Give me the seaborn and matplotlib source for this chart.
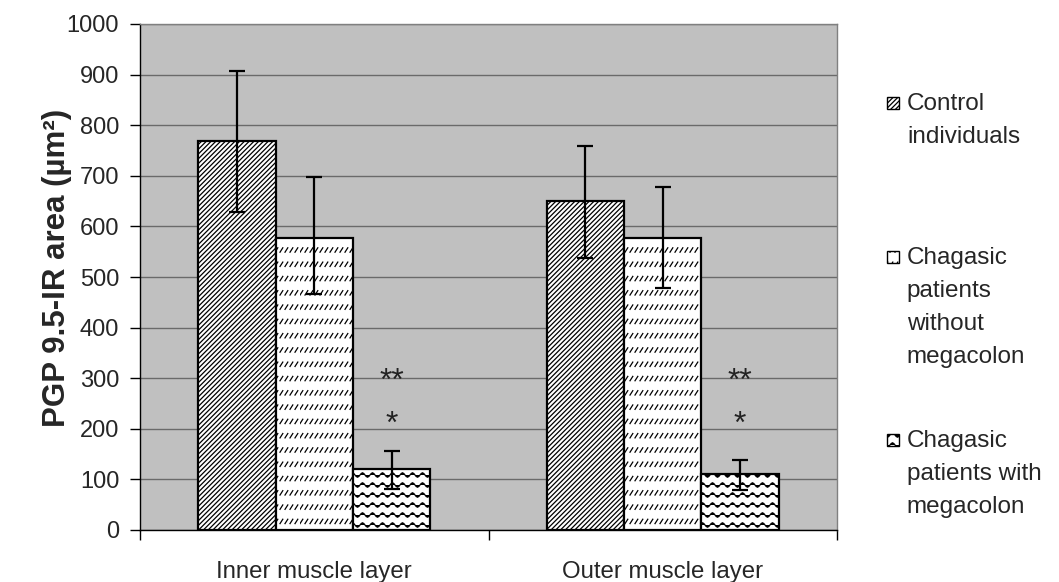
import warnings
warnings.filterwarnings("ignore")
import numpy as np
import pandas as pd
import matplotlib
matplotlib.use("Agg")
import matplotlib.pyplot as plt
import matplotlib.hatch as mhatch
import matplotlib.patches as mpatches
from matplotlib.legend_handler import HandlerPatch
from matplotlib.path import Path
import seaborn as sns

# ---------------- data ----------------
layers = ["Inner muscle layer", "Outer muscle layer"]
groups = ["Control\nindividuals",
          "Chagasic\npatients\nwithout\nmegacolon",
          "Chagasic\npatients with\nmegacolon"]
control_mean = [769, 651]
control_hi = [908, 759]
control_lo = [628, 538]
without_mean = [578, 578]
without_hi = [697, 678]
without_lo = [467, 479]
with_mean = [121, 110]
with_hi = [157, 139]
with_lo = [81, 80]
star_labels = ["**", "*"]
star_values = [292, 208]

# ---------------- custom hatches ----------------
class DiagHatch(mhatch.HatchPatternBase):
    N = 21
    def __init__(self, hatch, density):
        self.on = ";" in hatch
        self.num_vertices = (2 * self.N + 1) * 2 if self.on else 0
    def set_vertices_and_codes(self, vertices, codes):
        a = np.arange(-self.N, self.N + 1) / self.N
        vertices[0::2, 0] = a
        vertices[0::2, 1] = 0.0
        vertices[1::2, 0] = a + 1.0
        vertices[1::2, 1] = 1.0
        codes[0::2] = Path.MOVETO
        codes[1::2] = Path.LINETO

class WaveHatch(mhatch.HatchPatternBase):
    R, P, K, A = 10, 10, 8, 0.022
    def __init__(self, hatch, density):
        self.on = "~" in hatch
        self.npts = self.P * self.K + 1
        self.num_vertices = self.R * self.npts if self.on else 0
    def set_vertices_and_codes(self, vertices, codes):
        xs = np.linspace(0, 1, self.npts)
        for r in range(self.R):
            y0 = (r + 0.5) / self.R
            sl = slice(r * self.npts, (r + 1) * self.npts)
            vertices[sl, 0] = xs
            vertices[sl, 1] = y0 + self.A * np.sin(2 * np.pi * self.P * xs)
            codes[sl] = Path.LINETO
            codes[r * self.npts] = Path.MOVETO

class DashHatch(mhatch.HatchPatternBase):
    R, D = 7, 20
    def __init__(self, hatch, density):
        self.on = "," in hatch
        self.num_vertices = self.R * self.D * 2 if self.on else 0
    def set_vertices_and_codes(self, vertices, codes):
        i = 0
        for r in range(self.R):
            y0 = (r + 0.5) / self.R
            for d in range(self.D):
                x0 = d / self.D
                vertices[i] = (x0, y0 - 0.022)
                vertices[i + 1] = (x0 + 0.028, y0 + 0.022)
                codes[i] = Path.MOVETO
                codes[i + 1] = Path.LINETO
                i += 2

mhatch._hatch_types.extend([DiagHatch, WaveHatch, DashHatch])
hatches = [";", ",", "~"]

# ---------------- style ----------------
sns.set_style("white")
plt.rcParams["font.family"] = ["Liberation Sans", "DejaVu Sans"]
plt.rcParams["hatch.linewidth"] = 0.9

df = pd.DataFrame({
    "layer": layers * 3,
    "group": np.repeat(groups, len(layers)),
    "value": control_mean + without_mean + with_mean,
})
lows = [control_lo, without_lo, with_lo]
highs = [control_hi, without_hi, with_hi]

fig = plt.figure(figsize=(10.59, 5.82), dpi=100)
ax = fig.add_axes([140 / 1059, 1 - 530 / 582, 697 / 1059, 506 / 582])
ax.set_facecolor("#c0c0c0")

sns.barplot(data=df, x="layer", y="value", hue="group", hue_order=groups,
            palette=["white"] * 3, edgecolor="black", linewidth=1.6,
            width=2 / 3, gap=0, errorbar=None, saturation=1,
            legend=False, ax=ax, zorder=3)

for cont, h, lo, hi in zip(ax.containers, hatches, lows, highs):
    xs, ys = [], []
    for bar in cont:
        bar.set_hatch(h)
        xs.append(bar.get_x() + bar.get_width() / 2)
        ys.append(bar.get_height())
    ys = np.array(ys)
    ax.errorbar(xs, ys, yerr=[ys - np.array(lo), np.array(hi) - ys], fmt="none",
                ecolor="black", elinewidth=1.6, capsize=5.8, capthick=1.6, zorder=4)

# significance stars over the megacolon bars
for bar in ax.containers[2]:
    cx = bar.get_x() + bar.get_width() / 2
    for lab, v in zip(star_labels, star_values):
        ax.text(cx, v, lab, ha="center", va="center", fontsize=23, color="#222222", zorder=5)

ax.set_ylim(0, 1000)
ax.set_xlim(-0.5, 1.5)
ax.set_yticks(np.arange(0, 1001, 100))
ax.yaxis.grid(True, color="#6a6a6a", linewidth=1.0)
ax.set_axisbelow(True)
ax.tick_params(axis="y", labelsize=17, length=7, width=1, color="black", direction="out", pad=8, left=True)
ax.tick_params(axis="x", labelsize=17.3, length=0, pad=22)
ax.set_xticks(range(len(layers)))
ax.set_xticklabels(layers)
ax.set_xticks([-0.5, 0.5, 1.5], minor=True)
ax.tick_params(axis="x", which="minor", length=7, width=1, color="black", direction="out", bottom=True)
ax.set_xlabel("")
ax.set_ylabel("PGP 9.5-IR area (µm²)", fontsize=22.5, fontweight="bold")
ax.yaxis.set_label_coords((72 - 140) / 697, (530 - 268) / 506)
for s in ["left", "bottom"]:
    ax.spines[s].set_color("black")
    ax.spines[s].set_linewidth(1.0)
for s in ["top", "right"]:
    ax.spines[s].set_color("#808080")
    ax.spines[s].set_linewidth(1.0)

# legend: small box aligned with the first text line
def top_box(legend, orig_handle, xdescent, ydescent, width, height, fontsize):
    side = 9.0
    return mpatches.Rectangle((-xdescent, -ydescent + height - side + 1.5), width, side)

legend_tops = [93, 247, 430]
line_counts = [g.count("\n") + 1 for g in groups]
for g, h, top, n in zip(groups, hatches, legend_tops, line_counts):
    handle = mpatches.Patch(facecolor="white", edgecolor="black", hatch=h, linewidth=1.0)
    leg = fig.legend(handles=[handle], labels=[g], loc="upper left",
                     bbox_to_anchor=(887 / 1059, 1 - top / 582), frameon=False,
                     borderpad=0, borderaxespad=0, handlelength=0.5,
                     handleheight=2.26 * n - 2.04, handletextpad=0.32, fontsize=17.5,
                     handler_map={mpatches.Patch: HandlerPatch(patch_func=top_box)})
    for t in leg.get_texts():
        t.set_linespacing(1.64)

fig.savefig("out.png", dpi=100)
